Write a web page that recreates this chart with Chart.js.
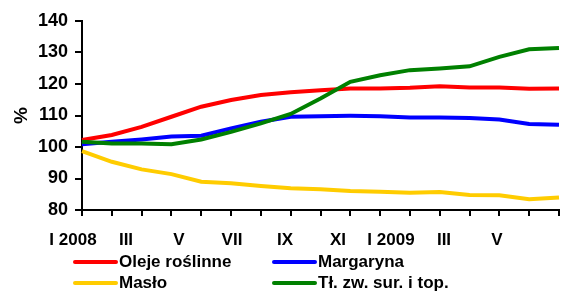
<!DOCTYPE html>
<html>
<head>
<meta charset="utf-8">
<script src="https://cdn.jsdelivr.net/npm/chart.js@4/dist/chart.umd.min.js"></script>
<style>
    body { margin: 0; background: #fff; }
    #wrap { position: relative; width: 587px; height: 296px; }
    #legend {
        position: absolute; left: 73px; top: 251px;
        display: grid; grid-template-columns: 199px 200px; row-gap: 0;
        font: bold 17px "Liberation Sans", Arial, sans-serif; color: #000;
    }
    .item { display: flex; align-items: center; height: 21.5px; white-space: nowrap; }
    .swatch { width: 45px; height: 4px; border-radius: 2px; margin-right: 1px; }
</style>
</head>
<body>
<div id="wrap">
    <canvas id="chart" width="587" height="296"></canvas>
    <div id="legend"></div>
</div>
<script>
// months Jan 2008 – May 2009
const months = ['I 2008', 'II', 'III', 'IV', 'V', 'VI', 'VII', 'VIII', 'IX', 'X', 'XI', 'XII',
    'I 2009', 'II', 'III', 'IV', 'V'];
const xLabels = ['I 2008', 'III', 'V', 'VII', 'IX', 'XI', 'I 2009', 'III', 'V'];
const yTicks = [80, 90, 100, 110, 120, 130, 140];

const seriesNames = ['Oleje roślinne', 'Margaryna', 'Masło', 'Tł. zw. sur. i top.'];
const oleje     = [102.2, 103.8, 106.4, 109.6, 112.8, 114.9, 116.5, 117.4, 118.0, 118.6, 118.6, 118.8, 119.3, 118.9, 118.9, 118.5, 118.6];
const margaryna = [100.9, 101.7, 102.4, 103.3, 103.6, 105.9, 108.0, 109.6, 109.8, 109.9, 109.8, 109.4, 109.4, 109.2, 108.7, 107.3, 107.1];
const maslo     = [98.7, 95.3, 92.9, 91.4, 89.0, 88.5, 87.6, 86.9, 86.6, 86.0, 85.8, 85.5, 85.7, 84.8, 84.7, 83.4, 84.0];
const tluszcze  = [101.7, 101.1, 101.1, 100.9, 102.4, 104.8, 107.5, 110.5, 115.4, 120.7, 122.8, 124.4, 124.9, 125.6, 128.6, 131.0, 131.4];

const COLORS = ['#ff0000', '#0000ff', '#ffcc00', '#008000'];
const FONT = "'Liberation Sans', Arial, sans-serif";

Chart.defaults.font.family = FONT;
Chart.defaults.font.weight = 'bold';
Chart.defaults.color = '#000';

const datasets = [oleje, margaryna, maslo, tluszcze].map((data, i) => ({
    label: seriesNames[i],
    data,
    borderColor: COLORS[i],
    backgroundColor: COLORS[i],
    borderWidth: 4,
    pointRadius: 0,
    tension: 0,
    fill: false,
    order: i === 3 ? -1 : i,
}));

const chart = new Chart(document.getElementById('chart'), {
    type: 'line',
    data: { labels: months, datasets },
    options: {
        responsive: false,
        animation: false,
        layout: { padding: { top: 21, right: 28, bottom: 40, left: 0 } },
        plugins: { legend: { display: false }, tooltip: { enabled: false } },
        scales: {
            x: {
                type: 'category',
                offset: false,
                border: { color: '#000', width: 2 },
                grid: { drawOnChartArea: false, drawTicks: true, tickLength: 6, color: '#000', lineWidth: 2 },
                ticks: { display: false, autoSkip: false },
                afterFit: s => { s.height = 6; },
            },
            x2: {
                type: 'linear',
                position: 'bottom',
                min: 0.17, max: 9.17,
                border: { display: false },
                grid: { display: false, drawTicks: false },
                afterBuildTicks: s => { s.ticks = xLabels.map((_, i) => ({ value: i })); },
                ticks: {
                    autoSkip: false, maxRotation: 0, padding: 14,
                    font: { size: 17, weight: 'bold' },
                    callback: (v, i) => xLabels[i],
                },
                afterFit: s => { s.height = 40; },
            },
            y: {
                min: 80, max: 140,
                border: { color: '#000', width: 2 },
                grid: { drawOnChartArea: false, drawTicks: true, tickLength: 7, color: '#000', lineWidth: 2 },
                afterBuildTicks: s => { s.ticks = yTicks.map(v => ({ value: v })); },
                ticks: { padding: 7, font: { size: 18, weight: 'bold' } },
                title: { display: true, text: '%', padding: { top: 10, bottom: 0 }, font: { size: 19, weight: 'bold' } },
                afterFit: s => { s.width = 82; },
            },
        },
    },
});

// legend in two columns, as in the original
const legendEl = document.getElementById('legend');
chart.data.datasets.forEach(ds => {
    const item = document.createElement('div');
    item.className = 'item';
    const sw = document.createElement('span');
    sw.className = 'swatch';
    sw.style.background = ds.borderColor;
    const txt = document.createElement('span');
    txt.textContent = ds.label;
    item.append(sw, txt);
    legendEl.appendChild(item);
});
</script>
</body>
</html>
